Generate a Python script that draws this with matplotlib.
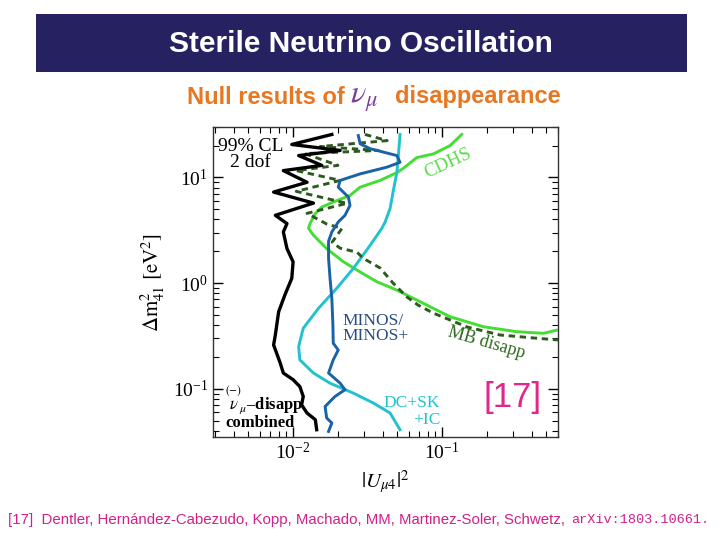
import matplotlib
matplotlib.use("Agg")
import matplotlib.pyplot as plt
from matplotlib.patches import Rectangle

plt.rcParams['mathtext.fontset'] = 'stix'
plt.rcParams['font.family'] = ['Liberation Serif', 'DejaVu Serif']

# ---- data (|U_mu4|^2 , Delta m^2_41 [eV^2]) ----
comb_u = [0.0182, 0.0098, 0.0207, 0.0109, 0.0156, 0.0086, 0.0124, 0.0074, 0.0137, 0.0076,
          0.0091, 0.0086, 0.0091, 0.0100, 0.0098, 0.0088, 0.0080, 0.0076, 0.0074, 0.0082,
          0.0086, 0.0100, 0.0111, 0.0117, 0.0114, 0.0124, 0.0141, 0.0144]
comb_m = [25.5, 20.5, 18.0, 16.1, 13.0, 11.6, 9.0, 7.27, 5.72, 4.38,
          3.66, 3.05, 2.12, 1.59, 1.11, 0.77, 0.536, 0.323, 0.26, 0.175,
          0.141, 0.122, 0.105, 0.0846, 0.0706, 0.059, 0.051, 0.041]

minos_u = [0.0274, 0.0282, 0.0329, 0.0497, 0.0522, 0.0426, 0.0282, 0.0207, 0.0201, 0.0235,
           0.0241, 0.0223, 0.0201, 0.0182, 0.0173, 0.0173, 0.0177, 0.0182, 0.0185, 0.0186,
           0.0201, 0.0186, 0.0173, 0.0207, 0.0223, 0.0191, 0.0164, 0.0168, 0.0182, 0.0173]
minos_m = [24.9, 20.8, 18.7, 16.1, 13.9, 12.5, 10.8, 9.37, 8.09, 6.52,
           5.44, 4.38, 3.79, 3.05, 2.49, 1.71, 1.11, 0.718, 0.402, 0.27,
           0.233, 0.188, 0.141, 0.113, 0.098, 0.0846, 0.068, 0.053, 0.0475, 0.0395]

dc_u = [0.0522, 0.0509, 0.0497, 0.0471, 0.0448, 0.0414, 0.0394, 0.0329, 0.0254, 0.0196,
        0.0148, 0.0117, 0.0109, 0.0111, 0.0137, 0.0177, 0.0254, 0.0346, 0.0448, 0.0522]
dc_m = [25.5, 16.1, 11.1, 7.54, 5.10, 3.76, 3.30, 2.28, 1.38, 0.891,
        0.577, 0.374, 0.251, 0.188, 0.141, 0.113, 0.091, 0.0733, 0.059, 0.041]

cdhs_u = [0.1355, 0.1132, 0.0875, 0.0676, 0.0550, 0.0497, 0.0384, 0.0282, 0.0241, 0.0186,
          0.0156, 0.0141, 0.0130, 0.0127, 0.0137, 0.0168, 0.0218, 0.0268, 0.0365, 0.0497,
          0.0676, 0.1132, 0.189, 0.317, 0.479, 0.60]
cdhs_m = [25.5, 20.0, 16.7, 15.4, 12.2, 11.1, 9.37, 8.09, 6.76, 5.85,
          5.25, 4.55, 3.66, 3.30, 2.84, 2.12, 1.59, 1.33, 1.03, 0.859,
          0.692, 0.481, 0.387, 0.347, 0.335, 0.361]

mb_u = [0.0304, 0.0428, 0.0152, 0.0372, 0.0120, 0.0200, 0.0105, 0.0207, 0.0105, 0.0230,
        0.0124, 0.0169, 0.0213, 0.0183, 0.0207, 0.0269, 0.0295, 0.0384, 0.0469, 0.0582,
        0.069, 0.0871, 0.147, 0.245, 0.408, 0.60]
mb_m = [25.5, 22.3, 19.6, 18.0, 16.8, 13.0, 11.6, 9.37, 7.38, 5.69,
        4.57, 3.61, 3.30, 2.44, 2.14, 1.96, 1.72, 1.39, 1.0, 0.738,
        0.62, 0.521, 0.385, 0.323, 0.303, 0.29]

fig = plt.figure(figsize=(7.2, 5.4), dpi=100)

sans = 'Liberation Sans'
# title banner
fig.patches.append(Rectangle((36/720, 1-72/540), (687-36)/720, 58/540,
                             transform=fig.transFigure, facecolor='#262262',
                             edgecolor='none', zorder=0))
fig.text(361/720, 1-44/540, 'Sterile Neutrino Oscillation', color='white',
         fontsize=21.5, fontweight='bold', family=sans,
         ha='center', va='center')
fig.text(187/720, 1-97/540, 'Null results of', color='#e87722', fontsize=17,
         fontweight='bold', family=sans, ha='left', va='center')
fig.text(350/720, 1-99/540, r'$\nu_\mu$', color='#7b3f9e', fontsize=23,
         ha='left', va='center')
fig.text(395/720, 1-97/540, 'disappearance', color='#e87722', fontsize=17,
         fontweight='bold', family=sans, ha='left', va='center')
fig.text(8/720, 1-520/540,
         '[17]  Dentler, Hernández-Cabezudo, Kopp, Machado, MM, Martinez-Soler, Schwetz, ',
         color='#d0208a', fontsize=10.8, family=sans, ha='left',
         va='center')
fig.text(571/720, 1-520/540, 'arXiv:1803.10661.', color='#d0208a', fontsize=9.7,
         family='Liberation Mono', ha='left', va='center')

ax = fig.add_axes([213/720, 1-437/540, (558-213)/720, (437-127)/540])
ax.set_xscale('log')
ax.set_yscale('log')
ax.set_xlim(0.0029, 0.6)
ax.set_ylim(0.035, 30)

ax.plot(cdhs_u, cdhs_m, color='#44dd33', lw=2.1, zorder=3)
ax.plot(mb_u, mb_m, color='#2d5a1e', lw=2.1, ls=(0, (2.2, 1.6)), zorder=4)
ax.plot(dc_u, dc_m, color='#22c2cc', lw=2.1, zorder=3)
ax.plot(minos_u, minos_m, color='#1a62a8', lw=2.1, zorder=5)
ax.plot(comb_u, comb_m, color='black', lw=2.4, zorder=6)

ax.text(0.0052, 16.5, '99% CL\n2 dof', fontsize=14, ha='center',
        va='center', linespacing=0.95)
ax.text(0.11, 13.5, 'CDHS', fontsize=13.5, color='#55dd44',
        rotation=25, ha='center', va='center')
ax.text(0.0213, 0.37, 'MINOS/\nMINOS+', fontsize=12.5,
        color='#2a4c80', ha='left', va='center', linespacing=0.9)
ax.text(0.20, 0.27, 'MB disapp', fontsize=13,  color='#2d6a1e',
        rotation=-16, ha='center', va='center')
ax.text(0.097, 0.0607, 'DC+SK\n+IC', fontsize=12.5, color='#22c2cc',
        ha='right', va='center', linespacing=1.1, multialignment='right')
ax.text(0.0035, 0.066, r'$\overset{(-)}{\nu}_{\!\mu}$' + '\u2013disapp\ncombined',
        fontsize=12, fontweight='bold', ha='left', va='center',
        linespacing=0.95)
ax.text(0.295, 0.082, '[17]', fontsize=25, family=sans,
        color='#e0288c', ha='center', va='center')

ax.tick_params(which='both', direction='in', top=True, right=True, labelsize=14)
ax.tick_params(which='major', length=7, width=1)
ax.tick_params(which='minor', length=4, width=0.8)
ax.set_xlabel(r'$|U_{\mu4}|^2$', fontsize=15, labelpad=4)
ax.set_ylabel(r'$\Delta\mathrm{m}^2_{41}\ [\mathrm{eV}^2]$', fontsize=15, labelpad=4)
for s in ax.spines.values():
    s.set_linewidth(1.0)
    s.set_color('#333333')

fig.savefig('out.png', dpi=100)
